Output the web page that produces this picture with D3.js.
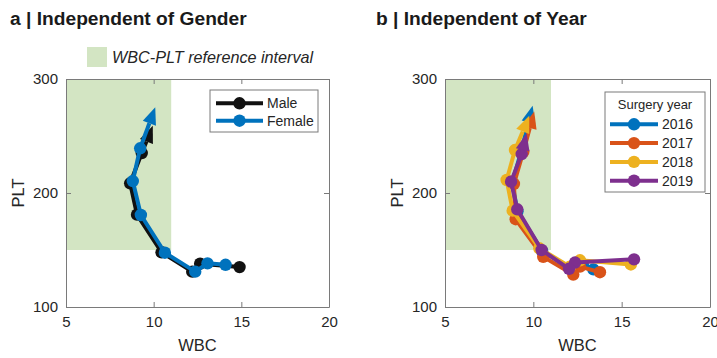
<!DOCTYPE html>
<html>
<head>
<meta charset="utf-8">
<script src="https://cdn.jsdelivr.net/npm/d3@7/dist/d3.min.js"></script>
<style>
  body { margin: 0; background: #fff; }
  svg { display: block; font-family: "Liberation Sans", Arial, sans-serif; }
</style>
</head>
<body>
<svg id="chart" width="717" height="358"></svg>
<script>
// Axis ticks
const xTicks = [5, 10, 15, 20];
const yTicks = [100, 200, 300];

// WBC-PLT reference interval
const refWBC = [5, 11];
const refPLT = [150, 300];

// Panel a: by gender
const genderNames = ["Male", "Female"];
const maleWBC = [14.9, 12.65, 12.2, 10.45, 9.05, 8.66, 9.32];
const malePLT = [135, 138, 131, 148, 181, 208.5, 235];
const maleArrow = [9.95, 259];
const femaleWBC = [14.1, 13.07, 12.37, 10.64, 9.27, 8.81, 9.23];
const femalePLT = [137, 138.3, 131, 147.6, 180.7, 210.5, 239.2];
const femaleArrow = [10.09, 275.2];

// Panel b: by surgery year
const yearNames = ["2016", "2017", "2018", "2019"];
const y2016WBC = [13.4, 12.8, 12.2, 10.5, 9.1, 8.8, 9.3];
const y2016PLT = [133, 137.5, 133, 149, 184, 209, 236];
const y2016Arrow = [9.96, 276.6];
const y2017WBC = [13.77, 12.64, 12.26, 10.56, 9.0, 8.9, 9.43];
const y2017PLT = [130.5, 135.4, 128.5, 144, 177, 208, 236];
const y2017Arrow = [10.05, 271.4];
const y2018WBC = [15.52, 12.64, 12.07, 10.34, 8.83, 8.49, 8.96];
const y2018PLT = [137.3, 141, 135.4, 151.5, 184.5, 211.4, 237.7];
const y2018Arrow = [9.77, 267.8];
const y2019WBC = [15.7, 12.36, 12.02, 10.47, 9.09, 8.74, 9.34];
const y2019PLT = [141.8, 139, 133.5, 150, 185.7, 209.9, 234.2];
const y2019Arrow = [9.62, 252.4];

const svg = d3.select("#chart");
const axisColor = "#7a7a7a";
const textColor = "#262626";

function drawPanel(opt) {
  const x = d3.scaleLinear().domain([5, 20]).range([opt.left, opt.right]);
  const y = d3.scaleLinear().domain([100, 300]).range([307, 79]);
  const g = svg.append("g");

  // title
  g.append("text").attr("x", opt.titleX).attr("y", 25)
    .attr("font-size", 19.2).attr("font-weight", "bold").attr("fill", "#1a1a1a")
    .text(opt.title);

  // reference interval
  g.append("rect")
    .attr("x", x(refWBC[0])).attr("y", y(refPLT[1]))
    .attr("width", x(refWBC[1]) - x(refWBC[0]))
    .attr("height", y(refPLT[0]) - y(refPLT[1]))
    .attr("fill", "#d3e5c3");

  // axes with inward ticks
  const bottom = d3.axisBottom(x).tickValues(xTicks).tickSizeInner(-5).tickSizeOuter(0).tickPadding(9);
  const top = d3.axisTop(x).tickValues(xTicks).tickSizeInner(-5).tickSizeOuter(0).tickFormat("");
  const left = d3.axisLeft(y).tickValues(yTicks).tickSizeInner(-5).tickSizeOuter(0).tickPadding(8);
  const right = d3.axisRight(y).tickValues(yTicks).tickSizeInner(-5).tickSizeOuter(0).tickFormat("");

  const styleAxis = sel => {
    sel.selectAll("path").attr("stroke", axisColor);
    sel.selectAll("line").attr("stroke", axisColor);
    sel.selectAll("text").attr("font-size", 15).attr("fill", textColor)
      .attr("font-family", "Liberation Sans, Arial, sans-serif");
  };
  g.append("g").attr("transform", `translate(0,${y(100)})`).call(bottom).call(styleAxis);
  g.append("g").attr("transform", `translate(0,${y(300)})`).call(top).call(styleAxis);
  g.append("g").attr("transform", `translate(${x(5)},0)`).call(left).call(styleAxis);
  g.append("g").attr("transform", `translate(${x(20)},0)`).call(right).call(styleAxis);

  // axis labels
  g.append("text").attr("x", (x(5) + x(20)) / 2).attr("y", 351)
    .attr("text-anchor", "middle").attr("font-size", 16.5).attr("fill", textColor).text("WBC");
  g.append("text").attr("transform", `translate(${opt.left - 42},${y(200)}) rotate(-90)`)
    .attr("text-anchor", "middle").attr("font-size", 16.5).attr("fill", textColor).text("PLT");

  // series
  const line = d3.line().x(d => x(d[0])).y(d => y(d[1]));
  opt.series.forEach(s => {
    const pts = s.wbc.map((w, i) => [w, s.plt[i]]);
    g.append("path").datum(pts).attr("d", line)
      .attr("fill", "none").attr("stroke", s.color).attr("stroke-width", 4)
      .attr("stroke-linejoin", "round");
    g.selectAll(null).data(pts).enter().append("circle")
      .attr("cx", d => x(d[0])).attr("cy", d => y(d[1])).attr("r", 6.2)
      .attr("fill", s.color);
    // arrow from last point toward the arrow tip
    const p0 = pts[pts.length - 1];
    const x0 = x(p0[0]), y0 = y(p0[1]);
    const x1 = x(s.arrow[0]), y1 = y(s.arrow[1]);
    const len = Math.hypot(x1 - x0, y1 - y0);
    const ux = (x1 - x0) / len, uy = (y1 - y0) / len;
    const headL = 17, headW = 7;
    const bx = x1 - ux * headL, by = y1 - uy * headL;
    g.append("line").attr("x1", x0).attr("y1", y0).attr("x2", bx).attr("y2", by)
      .attr("stroke", s.color).attr("stroke-width", 4);
    g.append("path")
      .attr("d", `M${x1},${y1}L${bx - uy * headW},${by + ux * headW}L${bx + uy * headW},${by - ux * headW}Z`)
      .attr("fill", s.color);
  });
  return { x, y, g };
}

// Panel a
drawPanel({
  left: 66, right: 329, titleX: 10, title: "a | Independent of Gender",
  series: [
    { wbc: maleWBC, plt: malePLT, arrow: maleArrow, color: "#111111" },
    { wbc: femaleWBC, plt: femalePLT, arrow: femaleArrow, color: "#0072BD" }
  ]
});

// Panel b
drawPanel({
  left: 445, right: 710, titleX: 376, title: "b | Independent of Year",
  series: [
    { wbc: y2016WBC, plt: y2016PLT, arrow: y2016Arrow, color: "#0072BD" },
    { wbc: y2017WBC, plt: y2017PLT, arrow: y2017Arrow, color: "#D95319" },
    { wbc: y2018WBC, plt: y2018PLT, arrow: y2018Arrow, color: "#EDB120" },
    { wbc: y2019WBC, plt: y2019PLT, arrow: y2019Arrow, color: "#7E2F8E" }
  ]
});

// Reference interval legend
svg.append("rect").attr("x", 87).attr("y", 47).attr("width", 20).attr("height", 20).attr("fill", "#d3e5c3");
svg.append("text").attr("x", 112).attr("y", 63).attr("font-size", 16.2).attr("font-style", "italic")
  .attr("fill", textColor).text("WBC-PLT reference interval");

// Series legends
function drawLegend(box, items, colors, title) {
  const lg = svg.append("g");
  lg.append("rect").attr("x", box.x).attr("y", box.y).attr("width", box.w).attr("height", box.h)
    .attr("fill", "#fff").attr("stroke", axisColor).attr("stroke-width", 1);
  if (title) {
    lg.append("text").attr("x", box.x + box.w / 2).attr("y", box.y + 17)
      .attr("text-anchor", "middle").attr("font-size", 13).attr("fill", textColor).text(title);
  }
  items.forEach((name, i) => {
    const yy = box.first + i * box.step;
    lg.append("line").attr("x1", box.x + box.l0).attr("x2", box.x + box.l1)
      .attr("y1", yy).attr("y2", yy).attr("stroke", colors[i]).attr("stroke-width", 4);
    lg.append("circle").attr("cx", box.x + (box.l0 + box.l1) / 2).attr("cy", yy).attr("r", 6.2)
      .attr("fill", colors[i]);
    lg.append("text").attr("x", box.x + box.l1 + 4).attr("y", yy + 5)
      .attr("font-size", 14).attr("fill", textColor).text(name);
  });
}
drawLegend({ x: 210, y: 90, w: 108, h: 42, first: 103.3, step: 17.4, l0: 6, l1: 53 },
  genderNames, ["#111111", "#0072BD"]);
drawLegend({ x: 605, y: 92, w: 100, h: 100, first: 124.3, step: 18.8, l0: 5, l1: 53 },
  yearNames, ["#0072BD", "#D95319", "#EDB120", "#7E2F8E"], "Surgery year");
</script>
</body>
</html>
